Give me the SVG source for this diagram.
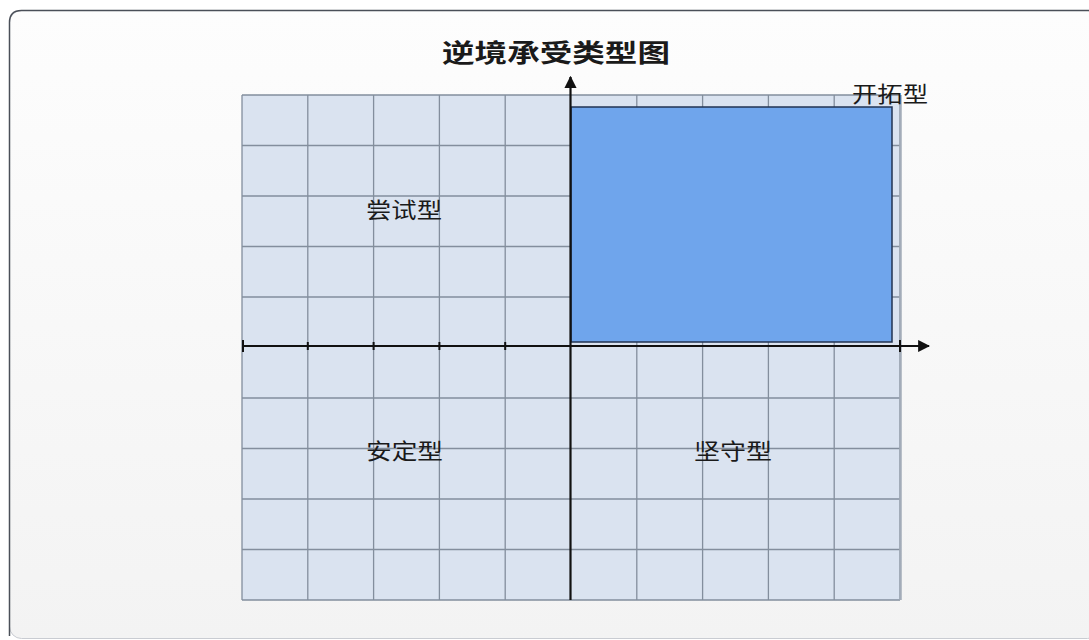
<svg xmlns="http://www.w3.org/2000/svg" width="1089" height="640" viewBox="0 0 1089 640">
  <defs>
    <linearGradient id="bg" x1="0" y1="0" x2="0" y2="1">
      <stop offset="0" stop-color="#fdfdfd"/>
      <stop offset="1" stop-color="#f3f3f3"/>
    </linearGradient>
    <marker id="arrow" viewBox="0 0 10 10" refX="9" refY="5" markerWidth="5.5" markerHeight="5.5" orient="auto" markerUnits="strokeWidth">
      <path d="M0,0 L10,5 L0,10 z" fill="#111"/>
    </marker>
  </defs>
  <style>
    .grid { stroke: #838e9d; stroke-width: 1.3; fill: none; }
    .lbl { font-family: "Liberation Sans", "Noto Sans CJK SC", sans-serif; font-size: 22px; fill: #1a1a1a; }
    .title { font-family: "Liberation Sans", "Noto Sans CJK SC", sans-serif; font-size: 25px; font-weight: bold; fill: #1a1a1a; }
    .axis { stroke: #111; stroke-width: 2.2; fill: none; }
    .tick { stroke: #111; stroke-width: 2; }
  </style>

  <rect x="0" y="0" width="1089" height="640" fill="#ffffff"/>
  <g id="frame">
    <rect x="9.5" y="10.5" width="1090" height="628" rx="12" fill="url(#bg)" stroke="#c9ccd2" stroke-width="1"/>
    <path d="M9.5,636 L9.5,22.5 Q9.5,10.5 21.5,10.5 L1089,10.5" fill="none" stroke="#4a4f58" stroke-width="1.5"/>
  </g>

  <g id="title">
    <text class="title" x="442" y="62" textLength="228" lengthAdjust="spacingAndGlyphs">逆境承受类型图</text>
  </g>

  <g id="grid">
    <rect x="242" y="95" width="658" height="505" fill="#dae3f0"/>
    <path class="grid" d="M242,95 V600 M307.8,95 V600 M373.6,95 V600 M439.4,95 V600 M505.2,95 V600 M636.8,95 V600 M702.6,95 V600 M768.4,95 V600 M834.2,95 V600 M900,95 V600"/>
    <path class="grid" d="M242,95 H900 M242,145.5 H900 M242,196 H900 M242,246.5 H900 M242,297 H900 M242,398 H900 M242,448.5 H900 M242,499 H900 M242,549.5 H900 M242,600 H900"/>
    <line x1="900.5" y1="95" x2="900.5" y2="600" stroke="#a3acb9" stroke-width="2.5"/>
  </g>

  <g id="quadrant-kaituo">
    <rect x="571" y="107" width="321" height="235" fill="#6fa5ec" stroke="#223553" stroke-width="1.5"/>
  </g>

  <g id="connectors">
    <line class="axis" x1="570.5" y1="600" x2="570.5" y2="77" marker-end="url(#arrow)"/>
    <line class="axis" x1="242" y1="346" x2="929" y2="346" marker-end="url(#arrow)"/>
    <path class="tick" d="M243,340 V352 M307.8,342 V350 M373.6,342 V350 M439.4,342 V350 M505.2,342 V350 M900,340 V352"/>
  </g>

  <g id="label-changshi">
    <text class="lbl" x="366" y="218" textLength="76" lengthAdjust="spacingAndGlyphs">尝试型</text>
  </g>
  <g id="label-anding">
    <text class="lbl" x="366" y="459" textLength="77" lengthAdjust="spacingAndGlyphs">安定型</text>
  </g>
  <g id="label-jianshou">
    <text class="lbl" x="694" y="459" textLength="78" lengthAdjust="spacingAndGlyphs">坚守型</text>
  </g>
  <g id="label-kaituo">
    <text class="lbl" x="852" y="102" textLength="76" lengthAdjust="spacingAndGlyphs">开拓型</text>
  </g>
</svg>
